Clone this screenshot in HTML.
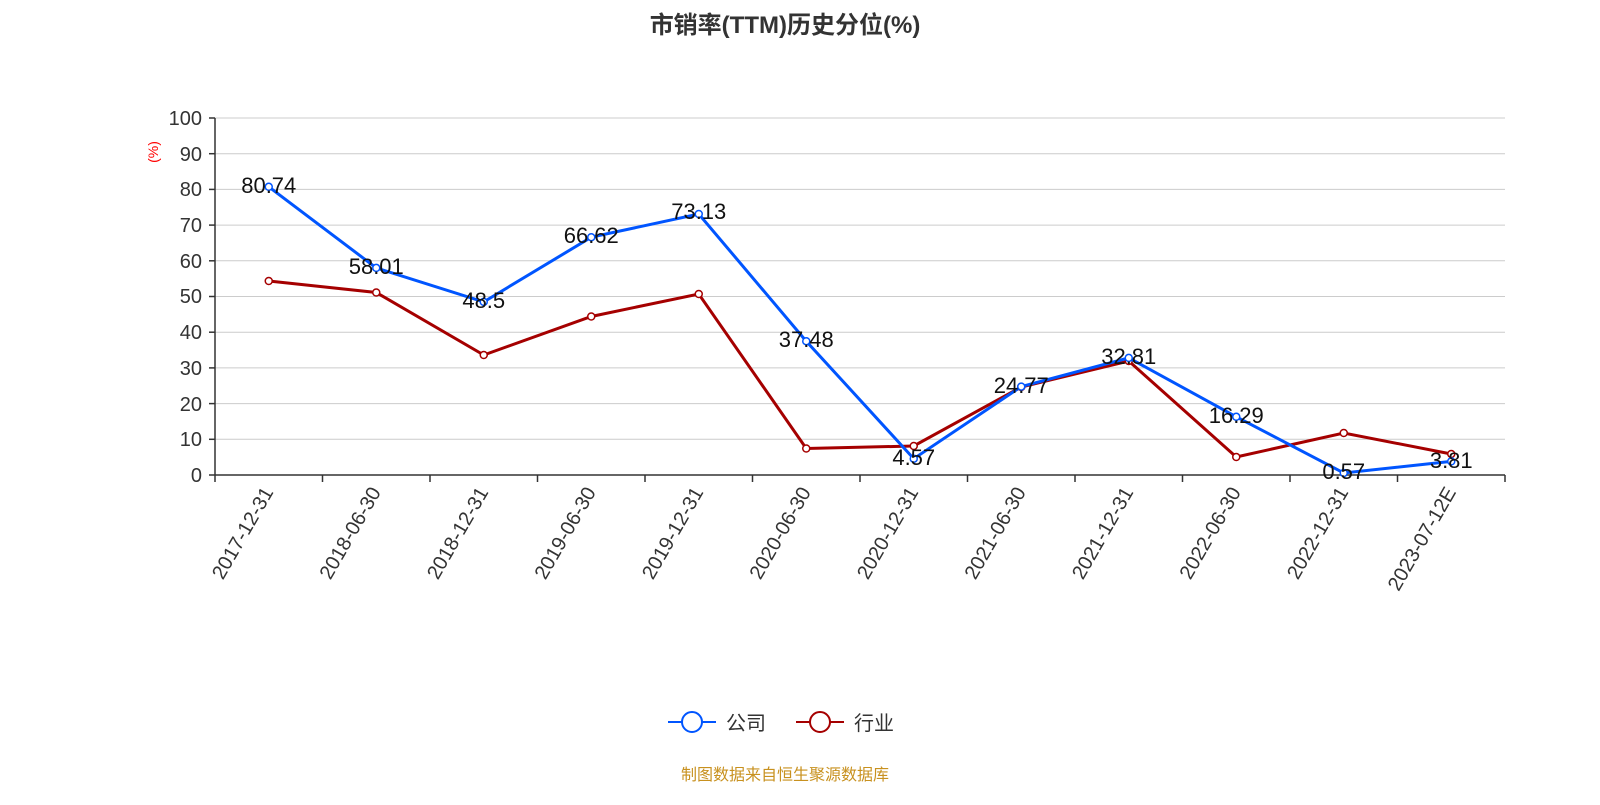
<!DOCTYPE html>
<html><head><meta charset="utf-8"><style>
body{margin:0;background:#fff;}
svg text{font-family:"Liberation Sans","Noto Sans CJK SC",sans-serif;}
</style></head><body>
<svg width="1600" height="800" xmlns="http://www.w3.org/2000/svg">
<text x="785" y="33" text-anchor="middle" font-size="24" font-weight="bold" fill="#333">市销率(TTM)历史分位(%)</text>
<g stroke="#ccc" stroke-width="1">
<line x1="215" x2="1505" y1="118" y2="118"/><line x1="215" x2="1505" y1="153.7" y2="153.7"/>
<line x1="215" x2="1505" y1="189.4" y2="189.4"/><line x1="215" x2="1505" y1="225.1" y2="225.1"/>
<line x1="215" x2="1505" y1="260.8" y2="260.8"/><line x1="215" x2="1505" y1="296.5" y2="296.5"/>
<line x1="215" x2="1505" y1="332.2" y2="332.2"/><line x1="215" x2="1505" y1="367.9" y2="367.9"/>
<line x1="215" x2="1505" y1="403.6" y2="403.6"/><line x1="215" x2="1505" y1="439.3" y2="439.3"/>
</g>
<g stroke="#333" stroke-width="1.5">
<line x1="215" x2="215" y1="118" y2="475"/>
<line x1="215" x2="1505" y1="475" y2="475"/>
<line x1="209" x2="215" y1="118" y2="118"/><line x1="209" x2="215" y1="153.7" y2="153.7"/>
<line x1="209" x2="215" y1="189.4" y2="189.4"/><line x1="209" x2="215" y1="225.1" y2="225.1"/>
<line x1="209" x2="215" y1="260.8" y2="260.8"/><line x1="209" x2="215" y1="296.5" y2="296.5"/>
<line x1="209" x2="215" y1="332.2" y2="332.2"/><line x1="209" x2="215" y1="367.9" y2="367.9"/>
<line x1="209" x2="215" y1="403.6" y2="403.6"/><line x1="209" x2="215" y1="439.3" y2="439.3"/>
<line x1="209" x2="215" y1="475" y2="475"/>
<line x1="215" x2="215" y1="475" y2="482"/><line x1="322.5" x2="322.5" y1="475" y2="482"/>
<line x1="430" x2="430" y1="475" y2="482"/><line x1="537.5" x2="537.5" y1="475" y2="482"/>
<line x1="645" x2="645" y1="475" y2="482"/><line x1="752.5" x2="752.5" y1="475" y2="482"/>
<line x1="860" x2="860" y1="475" y2="482"/><line x1="967.5" x2="967.5" y1="475" y2="482"/>
<line x1="1075" x2="1075" y1="475" y2="482"/><line x1="1182.5" x2="1182.5" y1="475" y2="482"/>
<line x1="1290" x2="1290" y1="475" y2="482"/><line x1="1397.5" x2="1397.5" y1="475" y2="482"/>
<line x1="1505" x2="1505" y1="475" y2="482"/>
</g>
<g font-size="20" fill="#333" text-anchor="end">
<text x="202" y="125">100</text><text x="202" y="161">90</text><text x="202" y="196">80</text>
<text x="202" y="232">70</text><text x="202" y="268">60</text><text x="202" y="303">50</text>
<text x="202" y="339">40</text><text x="202" y="375">30</text><text x="202" y="411">20</text>
<text x="202" y="446">10</text><text x="202" y="482">0</text>
</g>
<text transform="translate(158,152) rotate(-90)" font-size="14" fill="red" text-anchor="middle">(%)</text>
<g font-size="20" fill="#333" text-anchor="end">
<text transform="translate(274,492) rotate(-60)">2017-12-31</text>
<text transform="translate(381.5,492) rotate(-60)">2018-06-30</text>
<text transform="translate(489,492) rotate(-60)">2018-12-31</text>
<text transform="translate(596.5,492) rotate(-60)">2019-06-30</text>
<text transform="translate(704,492) rotate(-60)">2019-12-31</text>
<text transform="translate(811.5,492) rotate(-60)">2020-06-30</text>
<text transform="translate(919,492) rotate(-60)">2020-12-31</text>
<text transform="translate(1026.5,492) rotate(-60)">2021-06-30</text>
<text transform="translate(1134,492) rotate(-60)">2021-12-31</text>
<text transform="translate(1241.5,492) rotate(-60)">2022-06-30</text>
<text transform="translate(1349,492) rotate(-60)">2022-12-31</text>
<text transform="translate(1456.5,492) rotate(-60)">2023-07-12E</text>
</g>
<polyline fill="none" stroke="#a50000" stroke-width="3" points="268.75,281 376.25,292.5 483.75,355 591.25,316.5 698.75,294 806.25,448.5 913.75,446 1021.25,387 1128.75,361 1236.25,457 1343.75,433 1451.25,454"/>
<g fill="#fff" stroke="#a50000" stroke-width="1.5">
<circle cx="268.75" cy="281" r="3.5"/><circle cx="376.25" cy="292.5" r="3.5"/><circle cx="483.75" cy="355" r="3.5"/><circle cx="591.25" cy="316.5" r="3.5"/><circle cx="698.75" cy="294" r="3.5"/><circle cx="806.25" cy="448.5" r="3.5"/><circle cx="913.75" cy="446" r="3.5"/><circle cx="1021.25" cy="387" r="3.5"/><circle cx="1128.75" cy="361" r="3.5"/><circle cx="1236.25" cy="457" r="3.5"/><circle cx="1343.75" cy="433" r="3.5"/><circle cx="1451.25" cy="454" r="3.5"/>
</g>
<polyline fill="none" stroke="#0055ff" stroke-width="3" points="268.75,186.8 376.25,267.9 483.75,301.9 591.25,237.2 698.75,214 806.25,341.2 913.75,458.7 1021.25,386.6 1128.75,357.9 1236.25,416.8 1343.75,473 1451.25,461.4"/>
<g fill="#fff" stroke="#0055ff" stroke-width="1.5">
<circle cx="268.75" cy="186.8" r="3.5"/><circle cx="376.25" cy="267.9" r="3.5"/><circle cx="483.75" cy="301.9" r="3.5"/><circle cx="591.25" cy="237.2" r="3.5"/><circle cx="698.75" cy="214" r="3.5"/><circle cx="806.25" cy="341.2" r="3.5"/><circle cx="913.75" cy="458.7" r="3.5"/><circle cx="1021.25" cy="386.6" r="3.5"/><circle cx="1128.75" cy="357.9" r="3.5"/><circle cx="1236.25" cy="416.8" r="3.5"/><circle cx="1343.75" cy="473" r="3.5"/><circle cx="1451.25" cy="461.4" r="3.5"/>
</g>
<g font-size="22" fill="#111" text-anchor="middle">
<text x="268.75" y="193">80.74</text><text x="376.25" y="274">58.01</text><text x="483.75" y="308">48.5</text>
<text x="591.25" y="243">66.62</text><text x="698.75" y="219">73.13</text><text x="806.25" y="347">37.48</text>
<text x="913.75" y="465">4.57</text><text x="1021.25" y="393">24.77</text><text x="1128.75" y="364">32.81</text>
<text x="1236.25" y="423">16.29</text><text x="1343.75" y="479">0.57</text><text x="1451.25" y="468">3.81</text>
</g>
<line x1="668" x2="716" y1="722" y2="722" stroke="#0055ff" stroke-width="2"/>
<circle cx="692" cy="722" r="10" fill="#fff" stroke="#0055ff" stroke-width="2"/>
<text x="726" y="730" font-size="20" fill="#333">公司</text>
<line x1="796" x2="844" y1="722" y2="722" stroke="#a50000" stroke-width="2"/>
<circle cx="820" cy="722" r="10" fill="#fff" stroke="#a50000" stroke-width="2"/>
<text x="854" y="730" font-size="20" fill="#333">行业</text>
<text x="785" y="780" font-size="16" fill="#c8911f" text-anchor="middle">制图数据来自恒生聚源数据库</text>
</svg>
</body></html>
